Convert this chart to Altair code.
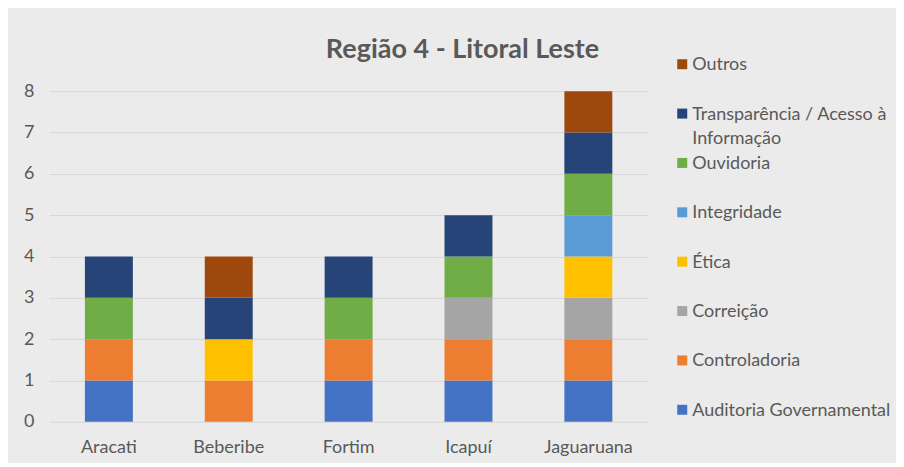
import altair as alt
import pandas as pd

# ---- data ----
municipios = ["Aracati", "Beberibe", "Fortim", "Icapuí", "Jaguaruana"]
series = [
    "Auditoria Governamental",
    "Controladoria",
    "Correição",
    "Ética",
    "Integridade",
    "Ouvidoria",
    "Transparência / Acesso à Informação",
    "Outros",
]
auditoria = [1, 0, 1, 1, 1]
controladoria = [1, 1, 1, 1, 1]
correicao = [0, 0, 0, 1, 1]
etica = [0, 1, 0, 0, 1]
integridade = [0, 0, 0, 0, 1]
ouvidoria = [1, 0, 1, 1, 1]
transparencia = [1, 1, 1, 1, 1]
outros = [0, 1, 0, 0, 1]
cores = ["#4472C4", "#ED7D31", "#A5A5A5", "#FFC000", "#5B9BD5", "#70AD47", "#264478", "#9E480E"]
legend_labels = [
    "Auditoria Governamental",
    "Controladoria",
    "Correição",
    "Ética",
    "Integridade",
    "Ouvidoria",
    "Transparência / Acesso à\nInformação",
    "Outros",
]

values = [auditoria, controladoria, correicao, etica, integridade, ouvidoria, transparencia, outros]
rows = []
for si, (s, vals) in enumerate(zip(series, values)):
    for m, v in zip(municipios, vals):
        if v > 0:
            rows.append({"municipio": m, "serie": s, "valor": v, "ord": si})
df = pd.DataFrame(rows)

leg = pd.DataFrame({
    "serie": series,
    "label": legend_labels,
    "idx": [len(series) - 1 - i for i in range(len(series))],  # 0 = top (Outros)
})

FONT = "Lato"
TXT = "#595959"
FS = 18
color_scale = alt.Scale(domain=series, range=cores)

bars = alt.Chart(df).mark_bar().encode(
    x=alt.X("municipio:N", sort=municipios, title=None,
            scale=alt.Scale(paddingInner=0.6, paddingOuter=0.3),
            axis=alt.Axis(labelAngle=0, domain=False, ticks=False, tickSize=0,
                          labelPadding=17, labelFontSize=FS, labelFont=FONT,
                          labelColor=TXT)),
    y=alt.Y("sum(valor):Q", title=None,
            scale=alt.Scale(domain=[0, 8], nice=False),
            axis=alt.Axis(values=list(range(0, 9)), domain=False, ticks=False, tickSize=0,
                          labelPadding=15, labelFontSize=FS, labelFont=FONT,
                          labelColor=TXT, gridColor="#d6d6d6", gridWidth=1)),
    color=alt.Color("serie:N", scale=color_scale, legend=None),
    order=alt.Order("ord:Q", sort="ascending"),
).properties(
    width=600, height=331,
    title=alt.Title("Região 4 - Litoral Leste", fontSize=27, font=FONT, fontWeight="bold",
                    color=TXT, anchor="middle", dx=114, offset=-3, baseline="alphabetic"),
)

ybase = alt.Y("idx:Q", axis=None,
              scale=alt.Scale(domain=[0.546, 7.243], reverse=True, nice=False, zero=False))

leg_sq = alt.Chart(leg).mark_square(size=100, opacity=1).encode(
    x=alt.value(10),
    y=ybase,
    color=alt.Color("serie:N", scale=color_scale, legend=None),
)
leg_txt = alt.Chart(leg).mark_text(
    align="left", baseline="top", dy=-8, lineBreak="\n", lineHeight=24,
    fontSize=FS, font=FONT, color=TXT,
).encode(
    x=alt.value(20),
    y=ybase,
    text="label:N",
)
legend_panel = alt.layer(leg_sq, leg_txt).properties(width=215, height=331)

chart = alt.hconcat(bars, legend_panel, spacing=24, bounds="flush").properties(
    background="#ebebeb",
    padding={"left": 15, "top": 28, "right": 5, "bottom": 6},
).configure_view(stroke=None)

chart.save("out.html", embed_options={"renderer": "svg", "actions": False})
